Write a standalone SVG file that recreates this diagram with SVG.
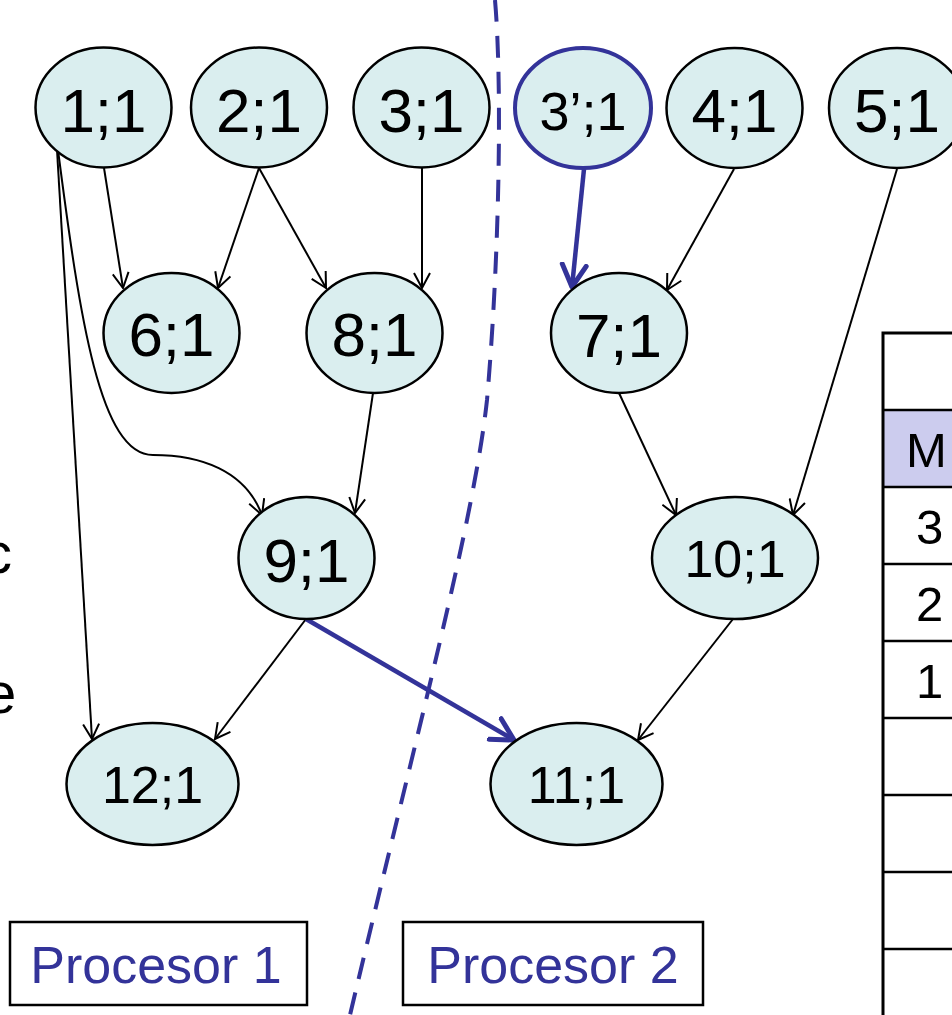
<svg xmlns="http://www.w3.org/2000/svg" width="952" height="1015" viewBox="0 0 952 1015">
<style>
.n ellipse{fill:#DAEEEF;stroke:#000;stroke-width:2.5}
.n text{font-family:"Liberation Sans",Arial,sans-serif;font-size:62px;text-anchor:middle;fill:#000}
.n text.s{font-size:52px}
.e{fill:none;stroke:#000;stroke-width:2;marker-end:url(#arr)}
.b{fill:none;stroke:#333399;stroke-width:4.5;marker-end:url(#barr)}
.t{font-family:"Liberation Sans",Arial,sans-serif;font-size:49px;fill:#000}
.p{font-family:"Liberation Sans",Arial,sans-serif;font-size:52px;fill:#333399;text-anchor:middle}
</style>
<defs>
<marker id="arr" viewBox="0 0 17 18" refX="16" refY="9" markerWidth="17" markerHeight="18" markerUnits="userSpaceOnUse" orient="auto">
<path d="M1,1 L16,9 L1,17" fill="none" stroke="#000" stroke-width="2"/>
</marker>
<marker id="barr" viewBox="0 0 26 30" refX="24" refY="15" markerWidth="26" markerHeight="30" markerUnits="userSpaceOnUse" orient="auto">
<path d="M2,3 L24,15 L2,27" fill="none" stroke="#333399" stroke-width="5" stroke-linecap="round" stroke-linejoin="round"/>
</marker>
</defs>
<rect width="952" height="1015" fill="#fff"/>
<text x="-17" y="573" style="font-family:'Liberation Sans',Arial,sans-serif;font-size:58px">c</text>
<text x="-16" y="713" style="font-family:'Liberation Sans',Arial,sans-serif;font-size:58px">e</text>
<path d="M495 0 C502 80 500 250 487 400 C474 520 420 720 350 1015" fill="none" stroke="#333399" stroke-width="4" stroke-dasharray="22 14"/>
<g id="connectors">
<line class="e" x1="104" y1="168" x2="123" y2="288"/>
<line class="e" x1="259" y1="168" x2="218" y2="288"/>
<line class="e" x1="259" y1="168" x2="326" y2="288"/>
<line class="e" x1="422" y1="168" x2="422" y2="288"/>
<line class="e" x1="57" y1="150" x2="92" y2="739"/>
<path class="e" d="M58 150 C80 320 100 455 153 455 C200 455 245 470 262 515"/>
<line class="e" x1="373" y1="393" x2="355" y2="513"/>
<line class="e" x1="306" y1="619" x2="215" y2="739"/>
<line class="b" x1="306" y1="619" x2="514" y2="740"/>
<line class="b" x1="584" y1="169" x2="572" y2="287"/>
<line class="e" x1="734" y1="169" x2="667" y2="290"/>
<line class="e" x1="897" y1="169" x2="793" y2="515"/>
<line class="e" x1="619" y1="393" x2="676" y2="515"/>
<line class="e" x1="733" y1="619" x2="638" y2="740"/>
</g>
<g id="n1" class="n"><ellipse cx="103.5" cy="107.5" rx="68" ry="60"/><text x="103.5" y="132">1;1</text></g>
<g id="n2" class="n"><ellipse cx="259" cy="107.5" rx="68" ry="60"/><text x="259" y="132">2;1</text></g>
<g id="n3" class="n"><ellipse cx="421.5" cy="107.5" rx="68" ry="60"/><text x="421.5" y="132">3;1</text></g>
<g id="n3p" class="n"><ellipse cx="583" cy="108" rx="68" ry="60" style="stroke:#333399;stroke-width:4"/><text x="583" y="130" style="font-size:54px">3’;1</text></g>
<g id="n4" class="n"><ellipse cx="734.5" cy="108" rx="68" ry="60"/><text x="734.5" y="132">4;1</text></g>
<g id="n5" class="n"><ellipse cx="897" cy="108" rx="68" ry="60"/><text x="897" y="132">5;1</text></g>
<g id="n6" class="n"><ellipse cx="171.5" cy="333" rx="68" ry="60"/><text x="171.5" y="356">6;1</text></g>
<g id="n8" class="n"><ellipse cx="374.5" cy="333" rx="68" ry="60"/><text x="374.5" y="356">8;1</text></g>
<g id="n7" class="n"><ellipse cx="619" cy="333" rx="68" ry="60"/><text x="619" y="357">7;1</text></g>
<g id="n9" class="n"><ellipse cx="306.5" cy="558" rx="68" ry="61"/><text x="306.5" y="582">9;1</text></g>
<g id="n10" class="n"><ellipse cx="735" cy="558" rx="83" ry="61"/><text class="s" x="735" y="577">10;1</text></g>
<g id="n12" class="n"><ellipse cx="152.5" cy="784" rx="86" ry="61"/><text class="s" x="152.5" y="803">12;1</text></g>
<g id="n11" class="n"><ellipse cx="576.5" cy="784" rx="86" ry="61"/><text class="s" x="576.5" y="803">11;1</text></g>
<g id="proc1"><rect x="10" y="922" width="297" height="83" fill="#fff" stroke="#000" stroke-width="2.5"/><text class="p" x="156" y="983">Procesor 1</text></g>
<g id="proc2"><rect x="403" y="922" width="300" height="83" fill="#fff" stroke="#000" stroke-width="2.5"/><text class="p" x="553" y="983">Procesor 2</text></g>
<g id="table">
<rect x="883" y="410" width="120" height="77" fill="#CCCCEE"/>
<rect x="883" y="333" width="120" height="720" fill="none" stroke="#000" stroke-width="3"/>
<g stroke="#000" stroke-width="2.5">
<line x1="883" y1="410" x2="952" y2="410"/>
<line x1="883" y1="487" x2="952" y2="487"/>
<line x1="883" y1="564" x2="952" y2="564"/>
<line x1="883" y1="641" x2="952" y2="641"/>
<line x1="883" y1="718" x2="952" y2="718"/>
<line x1="883" y1="795" x2="952" y2="795"/>
<line x1="883" y1="872" x2="952" y2="872"/>
<line x1="883" y1="949" x2="952" y2="949"/>
</g>
<text class="t" x="906" y="467">M</text>
<text class="t" x="916" y="544">3</text>
<text class="t" x="916" y="621">2</text>
<text class="t" x="916" y="698">1</text>
</g>
</svg>
